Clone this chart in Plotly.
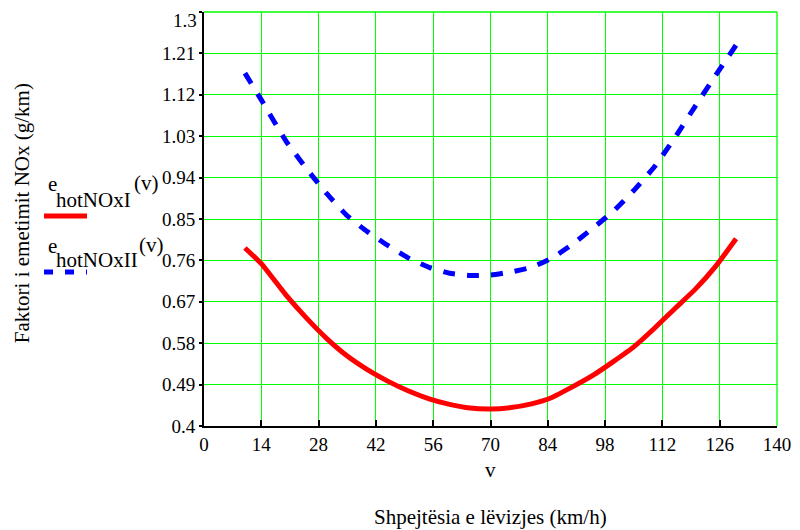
import plotly.graph_objects as go

# Data
v = [10, 14, 20, 25, 30, 35, 40, 45, 50, 55, 60, 65, 70, 75, 80, 85, 90, 95,
     100, 105, 110, 115, 120, 125, 130]
e_hotNOxI = [0.787, 0.753, 0.685, 0.635, 0.590, 0.552, 0.522, 0.497, 0.476,
             0.459, 0.447, 0.439, 0.437, 0.440, 0.448, 0.462, 0.485, 0.510,
             0.540, 0.572, 0.612, 0.655, 0.697, 0.747, 0.807]
e_hotNOxII = [1.167, 1.109, 1.020, 0.960, 0.905, 0.857, 0.822, 0.792, 0.765,
              0.745, 0.732, 0.727, 0.728, 0.735, 0.745, 0.765, 0.795, 0.830,
              0.867, 0.912, 0.963, 1.026, 1.095, 1.162, 1.228]

x_ticks = [0, 14, 28, 42, 56, 70, 84, 98, 112, 126, 140]
y_ticks = [0.4, 0.49, 0.58, 0.67, 0.76, 0.85, 0.94, 1.03, 1.12, 1.21, 1.3]
y_tick_text = ["0.4", "0.49", "0.58", "0.67", "0.76", "0.85", "0.94", "1.03",
               "1.12", "1.21", ""]
y_top_label = "1.3"

FONT = "Liberation Serif, Times New Roman, Times, serif"
GRID = "#00ff00"
FS = 19
FT = 21

fig = go.Figure()
fig.add_trace(go.Scatter(x=v, y=e_hotNOxI, mode="lines",
                         line=dict(color="#ff0000", width=5, shape="spline", smoothing=0.5),
                         showlegend=False, name="e_hotNOxI(v)"))
fig.add_trace(go.Scatter(x=v, y=e_hotNOxII, mode="lines",
                         line=dict(color="#0000ff", width=5, dash="12px,12px",
                                   shape="spline", smoothing=0.5),
                         showlegend=False, name="e_hotNOxII(v)"))

# page has an 8px body margin, so figure is 792x522
fig.update_layout(
    width=792, height=522,
    margin=dict(l=196, r=23, t=4, b=104, autoexpand=False),
    paper_bgcolor="white", plot_bgcolor="white",
    font=dict(family=FONT, size=FS, color="black"),
    showlegend=False,
)
fig.update_xaxes(range=[0, 140], tickvals=x_ticks, ticktext=[str(t) for t in x_ticks],
                 showgrid=True, gridcolor=GRID, gridwidth=1.3,
                 showline=True, linecolor="black", linewidth=2,
                 ticks="inside", ticklen=6, tickwidth=2, tickcolor="black",
                 zeroline=False, automargin=False,
                 tickfont=dict(family=FONT, size=FS))
fig.update_yaxes(range=[0.4, 1.3], tickvals=y_ticks, ticktext=y_tick_text,
                 showgrid=True, gridcolor=GRID, gridwidth=1.3,
                 showline=True, linecolor="black", linewidth=2,
                 ticks="outside", ticklen=3, tickwidth=2, tickcolor="black",
                 zeroline=False, automargin=False,
                 tickfont=dict(family=FONT, size=FS))

# top y tick label, pushed down inside the figure as in the reference
fig.add_annotation(text=y_top_label, xref="paper", yref="y", x=0, y=y_ticks[-1],
                   xanchor="right", yanchor="top", xshift=-5, yshift=4, showarrow=False,
                   font=dict(family=FONT, size=FS))

# Top and right boundary grid lines
fig.add_shape(type="line", xref="paper", yref="paper", x0=0, x1=1, y0=1, y1=1,
              line=dict(color=GRID, width=1.3), layer="below")
fig.add_shape(type="line", xref="paper", yref="paper", x0=1, x1=1, y0=0, y1=1,
              line=dict(color=GRID, width=1.3), layer="below")

# Y axis title
fig.add_annotation(text="Faktori i emetimit NOx (g/km)", xref="paper", yref="paper",
                   x=-0.3176, y=0.514, textangle=-90, showarrow=False,
                   xanchor="center", yanchor="middle", font=dict(family=FONT, size=FT))

# Axis labels below
fig.add_annotation(text="v", xref="paper", yref="paper", x=0.5, y=-0.106,
                   showarrow=False, font=dict(family=FONT, size=FT),
                   xanchor="center", yanchor="middle")
fig.add_annotation(text="Shpejtësia e lëvizjes (km/h)", xref="paper", yref="paper",
                   x=0.5, y=-0.220, showarrow=False, font=dict(family=FONT, size=FT),
                   xanchor="center", yanchor="middle")

# Legend (Mathcad style) on the left
def legend_label(sub, y_e, y_sub, y_sup, x_sup):
    fig.add_annotation(text="e", xref="paper", yref="paper", x=-0.276, y=y_e,
                       xanchor="left", yanchor="middle", showarrow=False,
                       font=dict(family=FONT, size=FT))
    fig.add_annotation(text=sub, xref="paper", yref="paper", x=-0.262, y=y_sub,
                       xanchor="left", yanchor="middle", showarrow=False,
                       font=dict(family=FONT, size=FT))
    fig.add_annotation(text="(v)", xref="paper", yref="paper", x=x_sup, y=y_sup,
                       xanchor="left", yanchor="middle", showarrow=False,
                       font=dict(family=FONT, size=FT))

legend_label("hotNOxI", 0.585, 0.547, 0.586, -0.126)
fig.add_shape(type="line", xref="paper", yref="paper", x0=-0.2792, x1=-0.2042,
              y0=0.5072, y1=0.5072, line=dict(color="#ff0000", width=5))
legend_label("hotNOxII", 0.435, 0.402, 0.438, -0.117)
fig.add_shape(type="line", xref="paper", yref="paper", x0=-0.2792, x1=-0.2042,
              y0=0.372, y1=0.372, line=dict(color="#0000ff", width=5, dash="9px,12px"))

fig.write_html("out.html")
